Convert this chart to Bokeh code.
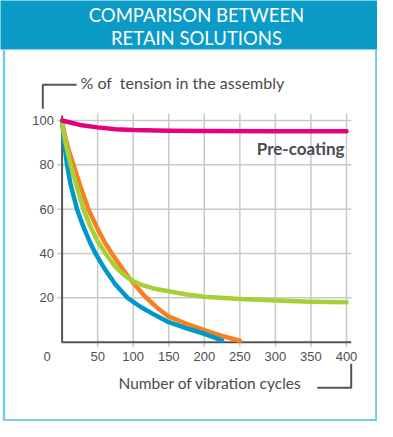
from bokeh.plotting import figure
from bokeh.models import Range1d
from bokeh.core.properties import value
from bokeh.embed import file_html
from bokeh.resources import INLINE

# ---------------- data ----------------
title_lines = ["COMPARISON BETWEEN", "RETAIN SOLUTIONS"]
y_title = "% of\u00a0 tension in the assembly"
x_title = "Number of vibration cycles"
x_ticks = [50, 100, 150, 200, 250, 300, 350, 400]
y_ticks = [20, 40, 60, 80, 100]

pink_x = [0, 10, 25, 50, 75, 100, 150, 200, 300, 400]
pink_y = [100, 99.2, 98.0, 96.9, 96.1, 95.7, 95.4, 95.3, 95.2, 95.2]

green_x = [0, 3, 7, 12, 20, 30, 40, 50, 61, 75, 88, 100, 115, 132, 150, 175, 200, 250, 300, 350, 400]
green_y = [100, 93, 87, 80, 71, 60, 52, 45.5, 40, 34, 30, 27.5, 25.5, 24, 23, 21.5, 20.5, 19.5, 18.8, 18.3, 18]

orange_x = [0, 4, 9, 16, 25, 37, 50, 60, 70, 85, 98, 117, 132, 150, 175, 200, 225, 250]
orange_y = [100, 93, 87, 80, 71, 60, 51, 45, 40, 33, 27.5, 20.5, 16, 11.5, 8.3, 5.5, 2.8, 0.7]

blue_x = [0, 3, 7, 12, 21, 30, 40, 47, 60, 75, 92, 110, 132, 150, 175, 200, 225]
blue_y = [100, 90, 80, 71, 60, 52, 44.5, 40, 33, 26, 20, 16, 12, 9, 6.2, 3.8, 0.8]

# ---------------- layout helpers (reference pixels -> data) ----------------
X0, SX = 61.6, 0.711      # x pixel of 0 cycles, pixels per cycle
Y0, SY = 341.7, 2.217     # y pixel of 0 %, pixels per %


def X(px):
    return (px - X0) / SX


def Y(py):
    return (Y0 - py) / SY


W, H = 377, 421
p = figure(width=W, height=H, output_backend="svg", toolbar_location=None,
           x_range=Range1d(X(0), X(W)), y_range=Range1d(Y(H), Y(0)),
           x_axis_type=None, y_axis_type=None, min_border=0)
p.grid.visible = False
p.outline_line_color = None
p.background_fill_color = "white"
p.border_fill_color = "white"

# header band and frame
p.quad(left=[X(-5)], right=[X(W + 5)], top=[Y(-5)], bottom=[Y(49)],
       fill_color="#0a9bc7", line_color=None)
border = "#74cdea"
p.line([X(3.5), X(3.5), X(W - 1.2), X(W - 1.2)], [Y(49), Y(419.8), Y(419.8), Y(49)],
       line_color=border, line_width=2.5)
p.text(x=[X(196)] * 2, y=[Y(14.5), Y(37.5)], text=title_lines,
       text_font=value("Lato"), text_font_size="18.5px", text_color="white",
       text_align="center", text_baseline="middle")

# grid
grid_c = "#c9c9c9"
p.segment(x0=x_ticks, y0=[Y(346.7)] * len(x_ticks), x1=x_ticks, y1=[Y(113)] * len(x_ticks),
          line_color=grid_c, line_width=1.5)
p.segment(x0=[X(56.7)] * len(y_ticks), y0=y_ticks, x1=[X(351)] * len(y_ticks), y1=y_ticks,
          line_color=grid_c, line_width=1.5)

# axes
axis_c = "#555555"
p.line([0, 0, X(350.7)], [Y(115), 0, 0], line_color=axis_c, line_width=2)

# tick labels
tick_c = "#4f4f4f"
p.text(x=[X(53.5)] * len(y_ticks), y=y_ticks, text=[str(v) for v in y_ticks],
       text_font=value("Liberation Sans"), text_font_size="13px", text_color=tick_c,
       text_align="right", text_baseline="middle")
p.text(x=x_ticks, y=[Y(355.5)] * len(x_ticks), text=[str(v) for v in x_ticks],
       text_font=value("Liberation Sans"), text_font_size="13px", text_color=tick_c,
       text_align="center", text_baseline="middle")
p.text(x=[X(46.7)], y=[Y(355.5)], text=["0"],
       text_font=value("Liberation Sans"), text_font_size="13px", text_color=tick_c,
       text_align="center", text_baseline="middle")

# axis titles with brackets
p.line([X(42.3), X(42.3), X(76)], [Y(108.3), Y(84.3), Y(84.3)], line_color=axis_c, line_width=2)
p.text(x=[X(80)], y=[Y(81.5)], text=[y_title], text_font=value("Lato"),
       text_font_size="16px", text_color="#4a4a4a", text_align="left", text_baseline="middle")
p.line([X(316.7), X(350.7), X(350.7)], [Y(387.3), Y(387.3), Y(363.3)], line_color=axis_c, line_width=2)
p.text(x=[X(118)], y=[Y(382)], text=[x_title], text_font=value("Lato"),
       text_font_size="15.5px", text_color="#4a4a4a", text_align="left", text_baseline="middle")

# series
p.line(orange_x, orange_y, line_color="#f5821f", line_width=4.5, line_join="round", line_cap="round")
p.line(blue_x, blue_y, line_color="#0098cc", line_width=4.5, line_join="round", line_cap="round")
p.line(green_x, green_y, line_color="#a8cf38", line_width=4.5, line_join="round", line_cap="round")
p.line(pink_x, pink_y, line_color="#e5007e", line_width=4.5, line_join="round", line_cap="round")

p.text(x=[X(344)], y=[Y(147.5)], text=["Pre-coating"], text_font=value("Lato"),
       text_font_style="bold", text_font_size="17px", text_color="#4a4a52",
       text_align="right", text_baseline="middle")

open("out.html", "w").write(file_html(p, INLINE))
